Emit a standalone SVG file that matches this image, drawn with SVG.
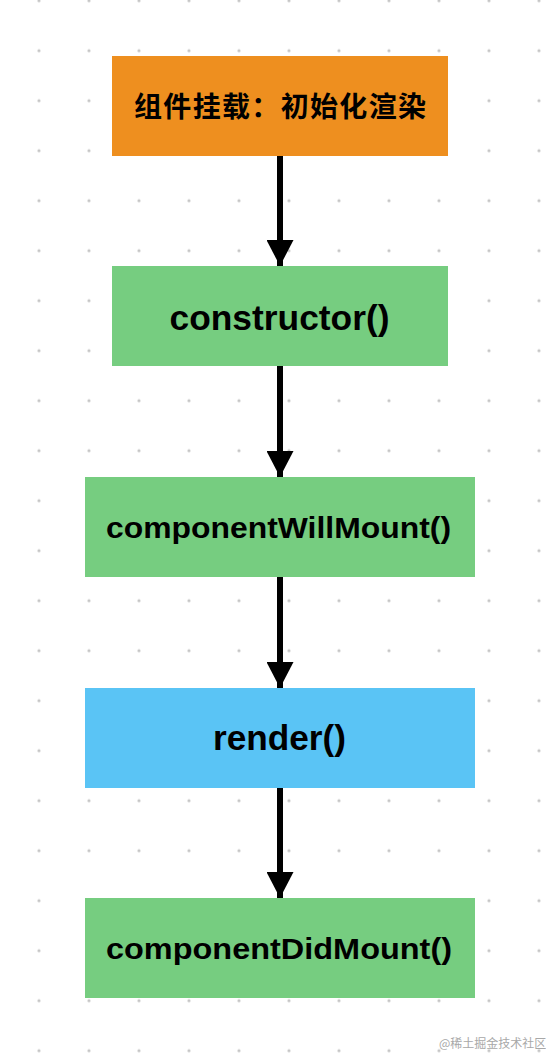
<svg xmlns="http://www.w3.org/2000/svg" width="546" height="1054" viewBox="0 0 546 1054">
  <style>
    .box-orange { fill: #ee8f1f; }
    .box-green { fill: #76cd80; }
    .box-blue { fill: #5ac4f5; }
    .label { font-family: "Liberation Sans", "Noto Sans CJK SC", Arial, sans-serif; font-weight: bold; fill: #000000; text-anchor: middle; }
    .cjk { font-family: "Noto Sans CJK SC", "Liberation Sans", sans-serif; font-weight: bold; fill: #000000; text-anchor: middle; }
    .conn { stroke: #000000; stroke-width: 6; fill: none; marker-end: url(#arrow); }
    .wm { font-family: "Noto Sans CJK SC", sans-serif; font-size: 12px; fill: #a8a8a8; }
  </style>
  <defs>
    <pattern id="dots" x="14" y="-24.3" width="50" height="50" patternUnits="userSpaceOnUse">
      <circle cx="25" cy="25" r="1.6" fill="#c6c6c6"/>
    </pattern>
    <marker id="arrow" markerUnits="userSpaceOnUse" markerWidth="26" markerHeight="27" refX="26" refY="13.5" orient="auto" viewBox="0 0 26 27">
      <path d="M0,0 L26,13.5 L0,27 z" fill="#000000"/>
    </marker>
  </defs>
  <rect x="0" y="0" width="546" height="1054" fill="#ffffff"/>
  <rect x="0" y="0" width="546" height="1054" fill="url(#dots)"/>

  <g id="connectors">
    <path class="conn" d="M280,156 L280,266"/>
    <path class="conn" d="M280,366 L280,477"/>
    <path class="conn" d="M280,577 L280,688"/>
    <path class="conn" d="M280,788 L280,898"/>
  </g>

  <g id="node-mount">
    <rect class="box-orange" x="112" y="56" width="336" height="100"/>
    <text class="cjk" x="280" y="117" font-size="28" textLength="292" lengthAdjust="spacing">组件挂载：初始化渲染</text>
  </g>
  <g id="node-constructor">
    <rect class="box-green" x="112" y="266" width="336" height="100"/>
    <text class="label" x="279.5" y="330" font-size="35" textLength="220" lengthAdjust="spacingAndGlyphs">constructor()</text>
  </g>
  <g id="node-willmount">
    <rect class="box-green" x="85" y="477" width="390" height="100"/>
    <text class="label" x="278.5" y="537.5" font-size="30" textLength="345" lengthAdjust="spacingAndGlyphs">componentWillMount()</text>
  </g>
  <g id="node-render">
    <rect class="box-blue" x="85" y="688" width="390" height="100"/>
    <text class="label" x="279.5" y="750" font-size="35" textLength="133" lengthAdjust="spacingAndGlyphs">render()</text>
  </g>
  <g id="node-didmount">
    <rect class="box-green" x="85" y="898" width="390" height="100"/>
    <text class="label" x="279" y="958.5" font-size="30" textLength="346" lengthAdjust="spacingAndGlyphs">componentDidMount()</text>
  </g>

  <text class="wm" x="439" y="1048">@稀土掘金技术社区</text>
</svg>
